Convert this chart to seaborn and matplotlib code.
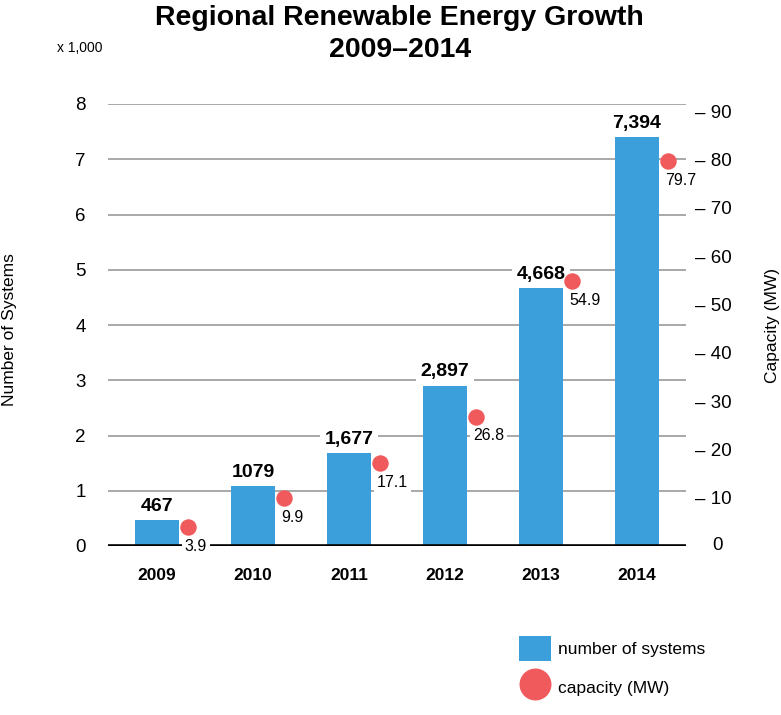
import numpy as np
import pandas as pd
import matplotlib
matplotlib.use('Agg')
import matplotlib.pyplot as plt
from matplotlib.patches import Patch
from matplotlib.lines import Line2D
import seaborn as sns

years = ['2009', '2010', '2011', '2012', '2013', '2014']
systems = [467, 1079, 1677, 2897, 4668, 7394]
system_labels = ['467', '1079', '1,677', '2,897', '4,668', '7,394']
capacity = [3.9, 9.9, 17.1, 26.8, 54.9, 79.7]
left_ticks = [0, 1, 2, 3, 4, 5, 6, 7, 8]
right_ticks = [0, 10, 20, 30, 40, 50, 60, 70, 80, 90]

blue = '#3a9fdb'
red = '#f05a5c'

sns.set_style('white')
plt.rcParams['font.family'] = ['Liberation Sans', 'DejaVu Sans']
plt.rcParams['text.color'] = 'black'
plt.rcParams['xtick.color'] = 'black'
plt.rcParams['ytick.color'] = 'black'

fig = plt.figure(figsize=(7.81, 7.15), dpi=100)
ax = fig.add_axes([108 / 781, 169 / 715, 578 / 781, 442 / 715])

df = pd.DataFrame({'year': years, 'systems': np.array(systems) / 1000})
sns.barplot(data=df, x='year', y='systems', color=blue, saturation=1, width=0.46,
            linewidth=0, ax=ax, zorder=2)

ax.set_ylim(0, 8)
ax.set_yticks(left_ticks)
ax.set_xlim(-0.51, 5.51)
ax.set_xlabel('')
ax.set_ylabel('')
ax.yaxis.grid(True, color='#999999', lw=1.2, zorder=0)
ax.set_axisbelow(True)
ax.axhline(0, color='black', lw=2.6, zorder=3)
for s in ax.spines.values():
    s.set_visible(False)
ax.tick_params(axis='y', length=0, pad=16, labelsize=13.5)
ax.tick_params(axis='x', length=0, pad=16)
ax.set_xticks(range(len(years)))
ax.set_xticklabels(years, fontweight='bold', fontsize=12.5)

for i, (v, lab) in enumerate(zip(systems, system_labels)):
    ax.annotate(lab, (i, v / 1000), xytext=(0, 4), textcoords='offset points',
                ha='center', va='bottom', fontsize=14, fontweight='bold',
                bbox=dict(fc='white', ec='none', pad=3.5), zorder=4)

ax2 = ax.twinx()
sns.scatterplot(x=np.arange(len(years)) + 0.32, y=capacity, color=red, s=140,
                linewidth=0, ax=ax2, zorder=5)
ax2.set_ylim(0, 91.5)
ax2.set_xlim(-0.51, 5.51)
ax2.set_yticks(right_ticks)
ax2.set_yticklabels([''] + ['\u2013 %d' % t for t in right_ticks[1:]])
ax2.tick_params(axis='y', length=0, pad=6.5, labelsize=13.5)
ax2.annotate('0', xy=(1, 0), xycoords=ax2.get_yaxis_transform(), xytext=(19, 0),
             textcoords='offset points', ha='left', va='center', fontsize=13.5)
for s in ax2.spines.values():
    s.set_visible(False)

for i, c in enumerate(capacity):
    ax2.annotate('%.1f' % c, (i + 0.32, c), xytext=(-2, -14), textcoords='offset points',
                 ha='left', va='center', fontsize=11.5,
                 bbox=dict(fc='white', ec='none', pad=2), zorder=4)

fig.text(0.512, 1 - 5 / 715, 'Regional Renewable Energy Growth\n2009\u20132014',
         ha='center', va='top', fontsize=20.5, fontweight='bold', linespacing=1.3)
fig.text(57 / 781, 1 - 48 / 715, 'x 1,000', ha='left', va='center', fontsize=10)
fig.text(10 / 781, 1 - 330 / 715, 'Number of Systems', rotation=90,
         ha='center', va='center', fontsize=12.5)
fig.text(773 / 781, 1 - 325 / 715, 'Capacity (MW)', rotation=90,
         ha='center', va='center', fontsize=12.5)

handles = [Patch(facecolor=blue, edgecolor='none'),
           Line2D([], [], marker='o', color=red, markersize=22, linestyle='')]
fig.legend(handles, ['number of systems', 'capacity (MW)'], loc='upper left',
           bbox_to_anchor=(519 / 781, 1 - 636 / 715), frameon=False, fontsize=12.5,
           handlelength=1.85, handleheight=1.85, handletextpad=0.4,
           labelspacing=0.8, borderpad=0, borderaxespad=0)

fig.savefig('out.png', dpi=100)
